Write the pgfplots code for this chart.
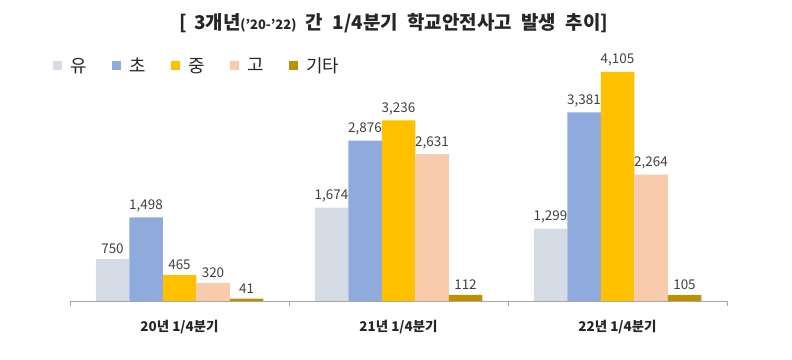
\documentclass[border=0pt]{standalone}
\usepackage{fontspec}
\setmainfont{Noto Sans CJK KR}
\usepackage{pgfplots}
\pgfplotsset{compat=1.18}
\definecolor{cYu}{HTML}{D6DCE5}
\definecolor{cCho}{HTML}{8FAADC}
\definecolor{cJung}{HTML}{FFC000}
\definecolor{cGo}{HTML}{F8CBAD}
\definecolor{cGita}{HTML}{BF9000}
\newcommand{\legbox}[1]{\makebox[19bp][l]{#1}}
\begin{document}
\begin{tikzpicture}
\useasboundingbox (0,0) rectangle (792bp,360bp);
\node[font=\bfseries\fontsize{19}{22}\selectfont, text=black!85] at (394bp,337bp)
  {[\hspace{0.35em}3개년{\fontsize{13}{15}\selectfont(’20-’22)}\hspace{0.5em}간\hspace{0.5em}1/4분기\hspace{0.5em}학교안전사고\hspace{0.5em}발생\hspace{0.5em}추이]};
\begin{axis}[
  at={(70bp,59bp)}, anchor=south west, scale only axis,
  width=657bp, height=241bp,
  xmin=-0.5, xmax=2.5, ymin=0, ymax=4320,
  axis x line*=bottom, axis y line=none,
  x axis line style={black!35},
  ybar=0pt, bar width=33.5bp,
  xtick={0,1,2},
  xticklabels={20년 1/4분기, 21년 1/4분기, 22년 1/4분기},
  major x tick style={draw=none},
  minor xtick={-0.5,0.5,1.5,2.5},
  minor tick length=5bp,
  tick align=outside,
  minor x tick style={black!35},
  xticklabel style={font=\bfseries\fontsize{13.5}{15}\selectfont, text=black!85, yshift=-11bp},
  nodes near coords,
  nodes near coords style={font=\fontsize{13.5}{15}\selectfont, text=black!75, yshift=2bp},
  /pgf/number format/.cd, 1000 sep={,}, assume math mode=true,
  /pgfplots/.cd,
  legend columns=5,
  legend style={draw=none, fill=none, at={(-0.030,0.976)}, anchor=west,
    font=\fontsize{18}{21}\selectfont, text=black!85,
    /tikz/every odd column/.append style={column sep=6bp},
    /tikz/every even column/.append style={column sep=21bp}},
  legend image code/.code={\fill[#1] (0bp,-4.5bp) rectangle (9bp,4.5bp);},
]
\addplot[fill=cYu, draw=none] coordinates {(0,750) (1,1674) (2,1299)};
\addplot[fill=cCho, draw=none] coordinates {(0,1498) (1,2876) (2,3381)};
\addplot[fill=cJung, draw=none] coordinates {(0,465) (1,3236) (2,4105)};
\addplot[fill=cGo, draw=none] coordinates {(0,320) (1,2631) (2,2264)};
\addplot[fill=cGita, draw=none] coordinates {(0,41) (1,112) (2,105)};
\legend{\legbox{유}, \legbox{초}, \legbox{중}, \legbox{고}, 기타}
\end{axis}
\end{tikzpicture}
\end{document}
